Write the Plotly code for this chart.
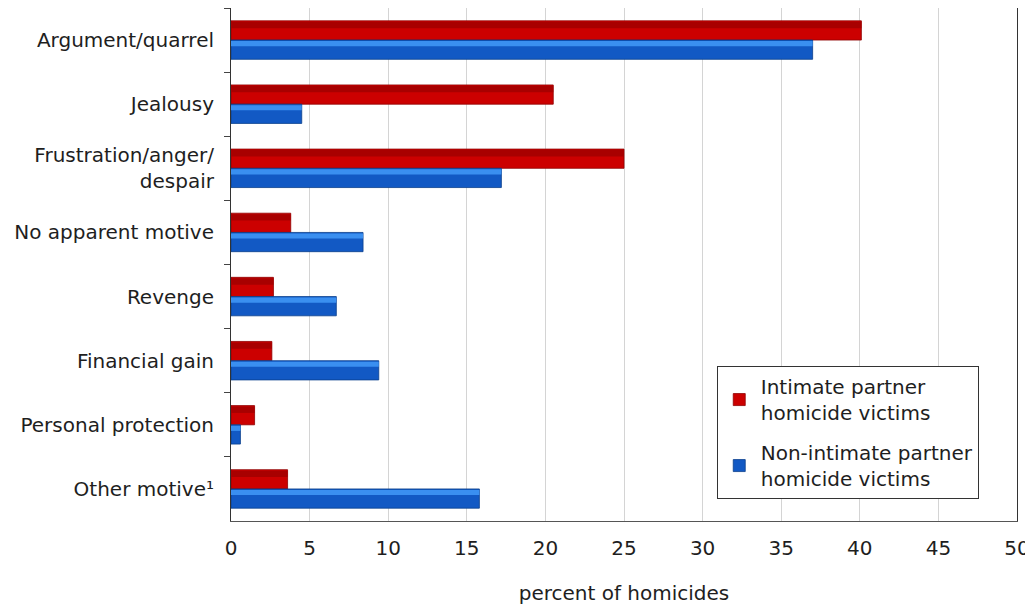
import plotly.graph_objects as go

categories = ["Argument/quarrel", "Jealousy", "Frustration/anger/<br>despair",
              "No apparent motive", "Revenge", "Financial gain",
              "Personal protection", "Other motive¹"]
intimate = [40.1, 20.5, 25.0, 3.8, 2.7, 2.6, 1.5, 3.6]
non_intimate = [37.0, 4.5, 17.2, 8.4, 6.7, 9.4, 0.6, 15.8]
series_names = ["Intimate partner<br>homicide victims", "Non-intimate partner<br>homicide victims"]
x_ticks = list(range(0, 51, 5))

font_family = "DejaVu Sans, Verdana, sans-serif"
txt = "#1e1e1e"
fs = 20
bw = 0.3  # bar thickness in category units
pad = "\u00a0\u00a0\u00a0"

fig = go.Figure()
# main bars
fig.add_trace(go.Bar(y=categories, x=intimate, orientation="h", name=series_names[0] + pad,
                     legendgroup="a", offset=-bw, width=bw,
                     marker=dict(color="#cc0000", line=dict(color="#8f0000", width=0.8))))
fig.add_trace(go.Bar(y=categories, x=non_intimate, orientation="h", name=series_names[1] + pad,
                     legendgroup="b", offset=0, width=bw,
                     marker=dict(color="#1259c4", line=dict(color="#0a3f8c", width=0.8))))
# shading stripes on the upper part of each bar (3-D look of the original)
fig.add_trace(go.Bar(y=categories, x=intimate, orientation="h", showlegend=False,
                     hoverinfo="skip", offset=-bw + 0.015, width=0.1,
                     marker=dict(color="#a80000", line=dict(width=0))))
fig.add_trace(go.Bar(y=categories, x=non_intimate, orientation="h", showlegend=False,
                     hoverinfo="skip", offset=0.015, width=0.08,
                     marker=dict(color="#3a8ff0", line=dict(width=0))))

# page body has an 8px margin: offset the figure so the plot box lands where the reference has it
fig.update_layout(
    width=1033, height=606,
    margin=dict(l=223, r=24, t=0, b=93),
    paper_bgcolor="white", plot_bgcolor="white",
    barmode="overlay",
    font=dict(family=font_family, size=fs, color=txt),
    legend=dict(x=0.618, y=0.302, xanchor="left", yanchor="top",
                bordercolor="#333333", borderwidth=1, bgcolor="white",
                font=dict(size=fs, color=txt), tracegroupgap=11,
                itemwidth=33),
    xaxis=dict(range=[0, 50], tickvals=x_ticks, showgrid=True, gridcolor="#d4d4d4",
               gridwidth=1, showline=True, linecolor="#555555", mirror=True, linewidth=1,
               ticks="", zeroline=False, ticklabelstandoff=9,
               title=dict(text="percent of homicides", standoff=26, font=dict(size=fs)),
               tickfont=dict(size=fs)),
    yaxis=dict(autorange="reversed", showline=True, linecolor="#333333", mirror=True,
               linewidth=1, ticks="outside", tickson="boundaries", ticklen=6,
               tickcolor="#444444", tickfont=dict(size=fs), showgrid=False,
               ticklabelstandoff=12),
)

fig.write_html("out.html")
